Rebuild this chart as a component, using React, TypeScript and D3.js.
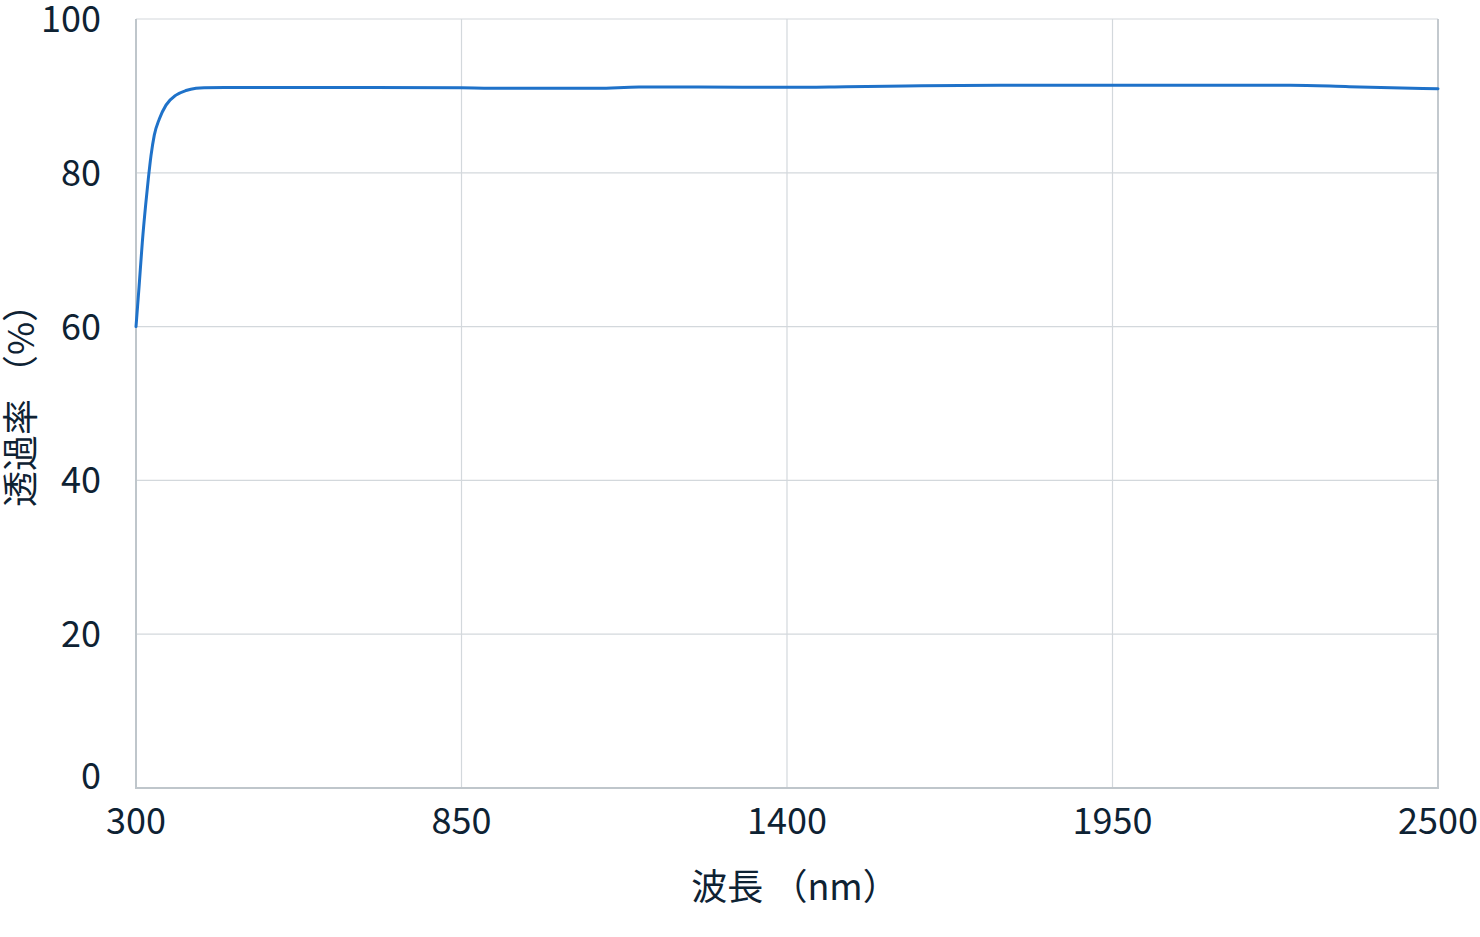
import React from "react";
import * as d3 from "d3";

const wavelengths = [300, 305, 310.6, 316.4, 320.8, 325.3, 330.9, 339.4, 350.7, 367.6, 384.5, 401.4, 415, 500, 700, 850, 900, 1000, 1080, 1150, 1250, 1400, 1500, 1600, 1760, 2000, 2250, 2350, 2500];
const transmittance = [60, 65.0, 70.9, 75.9, 79.2, 82.2, 84.9, 87.0, 88.8, 90.1, 90.7, 91.0, 91.07, 91.1, 91.1, 91.05, 91.0, 90.99, 91.0, 91.15, 91.15, 91.12, 91.2, 91.3, 91.38, 91.38, 91.38, 91.2, 90.92];
const xTicks = [300, 850, 1400, 1950, 2500];
const yTicks = [0, 20, 40, 60, 80, 100];
const xTitle = "波長 （nm）";
const yTitle = "透過率 （%）";

const W = 1480, H = 937;
const M = { left: 136, right: 1438, top: 19, bottom: 788 };
const FONT = '"Noto Sans CJK JP", "Noto Sans", sans-serif';
const TEXT = "#0e2233";

export default function App() {
  const x = d3.scaleLinear().domain([300, 2500]).range([M.left, M.right]);
  const y = d3.scaleLinear().domain([0, 100]).range([M.bottom, M.top]);
  const data = wavelengths.map((w, i) => [w, transmittance[i]] as [number, number]);
  const line = d3.line<[number, number]>().x(d => x(d[0])).y(d => y(d[1])).curve(d3.curveMonotoneX);

  return (
    <svg width={W} height={H} style={{ position: "absolute", left: 0, top: 0, background: "#fff" }} fontFamily={FONT}>
      {yTicks.map(t => (
        <line key={"gy" + t} x1={M.left} x2={M.right} y1={y(t)} y2={y(t)} stroke="#d3d8dc" strokeWidth={1.2} />
      ))}
      {xTicks.map(t => (
        <line key={"gx" + t} x1={x(t)} x2={x(t)} y1={M.top} y2={M.bottom} stroke="#d3d8dc" strokeWidth={1.2} />
      ))}
      <line x1={M.right} x2={M.right} y1={M.top} y2={M.bottom} stroke="#c3c9ce" strokeWidth={2} />
      <line x1={M.left} x2={M.left} y1={M.top} y2={M.bottom + 1} stroke="#bfc6cb" strokeWidth={2} />
      <line x1={M.left - 1} x2={M.right + 1} y1={M.bottom} y2={M.bottom} stroke="#bfc6cb" strokeWidth={2} />
      <path d={line(data) || ""} fill="none" stroke="#1f72c9" strokeWidth={3} strokeLinejoin="round" strokeLinecap="round" />
      {yTicks.map(t => (
        <text key={"ly" + t} x={101} y={t === 0 ? M.bottom + 1 : y(t) + 13} textAnchor="end" fontSize={36} fill={TEXT}>{t}</text>
      ))}
      {xTicks.map(t => (
        <text key={"lx" + t} x={x(t)} y={834} textAnchor="middle" fontSize={36} fill={TEXT}>{t}</text>
      ))}
      <text x={(M.left + M.right) / 2 + 8} y={884} textAnchor="middle" dominantBaseline="central" fontSize={36} fill={TEXT}>{xTitle}</text>
      <text transform={`translate(18, ${(M.top + M.bottom) / 2 - 7}) rotate(-90)`} textAnchor="middle" dominantBaseline="central" fontSize={36} fill={TEXT}>{yTitle}</text>
    </svg>
  );
}
